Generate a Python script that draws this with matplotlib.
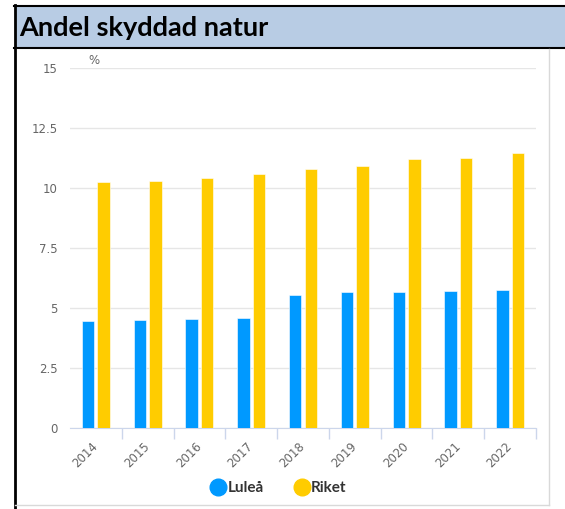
import matplotlib
matplotlib.use("Agg")
from matplotlib import pyplot as plt
from matplotlib.lines import Line2D
from matplotlib.patches import Rectangle
import numpy as np

years = ["2014", "2015", "2016", "2017", "2018", "2019", "2020", "2021", "2022"]
lulea = [4.45, 4.5, 4.55, 4.6, 5.55, 5.65, 5.65, 5.7, 5.75]
riket = [10.25, 10.3, 10.4, 10.6, 10.8, 10.9, 11.2, 11.25, 11.45]
y_ticks = [0, 2.5, 5, 7.5, 10, 12.5, 15]
y_labels = ["0", "2.5", "5", "7.5", "10", "12.5", "15"]

W, H = 565, 509
BLUE = "#0099ff"
YELLOW = "#ffcc00"
GREY = "#666666"

def fx(px):
    return px / W

def fy(py):
    # pixel y from top -> figure fraction
    return 1 - py / H

fig = plt.figure(figsize=(W / 100, H / 100), dpi=100)
fig.patch.set_facecolor("white")

# header band and frame
fig.add_artist(Rectangle((fx(15), fy(48)), fx(550), 42 / H, transform=fig.transFigure,
                         facecolor="#b8cce4", edgecolor="none"))
fig.add_artist(Line2D([fx(14), 1], [fy(5.5), fy(5.5)], color="black", lw=1.5))
fig.add_artist(Line2D([fx(14), 1], [fy(48), fy(48)], color="black", lw=1.5))
fig.add_artist(Line2D([fx(14.5), fx(14.5)], [fy(5), 0], color="black", lw=2))
fig.add_artist(Line2D([fx(549), fx(549)], [fy(49), fy(505)], color="#d9d9d9", lw=1))
fig.add_artist(Line2D([fx(15), fx(549)], [fy(505), fy(505)], color="#d9d9d9", lw=1))
fig.text(fx(19), fy(28), "Andel skyddad natur", fontsize=19.5, fontweight="bold",
         family="Lato", color="black", va="center", ha="left")

ax = fig.add_axes([fx(70), fy(428), fx(536) - fx(70), (428 - 68) / H])
x = np.arange(len(years))
w = 0.24
ax.bar(x - 0.15, lulea, w, color=BLUE, edgecolor="white", linewidth=0.4, zorder=3)
ax.bar(x + 0.15, riket, w, color=YELLOW, edgecolor="white", linewidth=0.4, zorder=3)

ax.set_xlim(-0.5, len(years) - 0.5)
ax.set_ylim(0, 15)
ax.set_yticks(y_ticks)
ax.set_yticklabels(y_labels)
ax.grid(axis="y", color="#e6e6e6", lw=1, zorder=0)
for s in ["top", "right", "left"]:
    ax.spines[s].set_visible(False)
ax.spines["bottom"].set_color("#ccd6eb")
ax.tick_params(axis="y", length=0, pad=9, labelsize=8.5, labelcolor=GREY)

# category labels at centers, tick marks on boundaries
ax.set_xticks(x)
ax.set_xticklabels(years, rotation=45, ha="right", va="center", rotation_mode="anchor")
ax.tick_params(axis="x", which="major", length=0, pad=12, labelsize=8.5, labelcolor=GREY)
ax.set_xticks(np.arange(len(years)) + 0.5, minor=True)
ax.tick_params(axis="x", which="minor", length=8, color="#ccd6eb", width=1)

ax.text(0.04, 1.01, "%", transform=ax.transAxes, fontsize=8.5, color=GREY)

handles = [Line2D([], [], marker="o", ls="", ms=12, color=BLUE, label="Luleå"),
           Line2D([], [], marker="o", ls="", ms=12, color=YELLOW, label="Riket")]
fig.legend(handles=handles, loc="center", bbox_to_anchor=(fx(278), fy(488)), ncol=2,
           frameon=False, handletextpad=0.0, columnspacing=1.9, handlelength=1.2,
           prop={"family": "Lato", "weight": "bold", "size": 11}, labelcolor="#333333")

fig.savefig("out.png", dpi=100)
